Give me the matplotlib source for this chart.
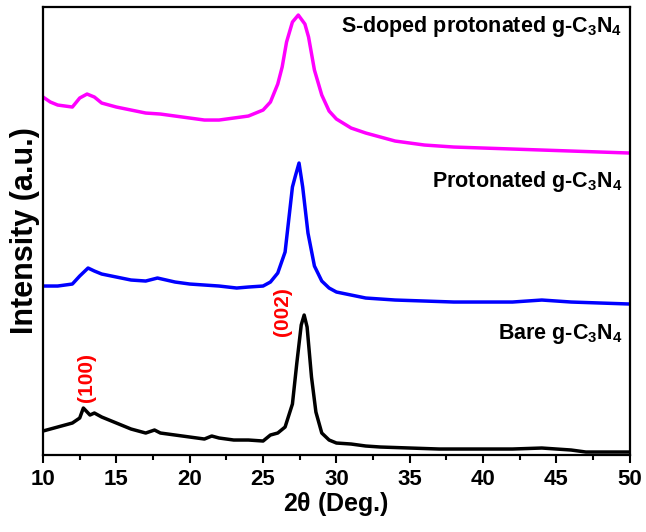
import matplotlib
matplotlib.use('Agg')
import matplotlib.pyplot as plt
from matplotlib.ticker import MultipleLocator

plt.rcParams['font.family'] = ['Liberation Sans', 'DejaVu Sans']
plt.rcParams['mathtext.fontset'] = 'custom'
plt.rcParams['mathtext.rm'] = 'Liberation Sans:bold'
plt.rcParams['mathtext.it'] = 'Liberation Sans:bold'
plt.rcParams['mathtext.bf'] = 'Liberation Sans:bold'

# intensities (arbitrary units, stacked)
s_x = [10, 10.5, 11, 11.5, 12, 12.5, 13, 13.5, 14, 14.5, 15, 16, 17, 18, 19, 20, 21, 22, 23, 24, 25,
       25.5, 26, 26.3, 26.6, 27, 27.4, 27.85, 28.1, 28.5, 29, 29.5, 30, 31, 32, 33, 34, 35, 36, 38, 40,
       42, 44, 46, 48, 50]
s_y = [435, 430, 427, 426, 425, 434, 438, 435, 429, 427, 425, 422, 419, 418, 416, 414, 412, 412, 414, 416, 422,
       430, 448, 465, 490, 510, 517, 508, 495, 462, 437, 421, 413, 404, 399, 395, 391, 389, 387, 385, 384,
       383, 382, 381, 380, 379]

p_x = [10, 11, 12, 12.5, 13.07, 13.5, 14, 15, 16, 17, 17.8, 19, 20, 21, 22, 23.2, 24, 25, 25.5, 26, 26.5,
       27, 27.2, 27.45, 27.7, 28.06, 28.5, 29, 29.5, 30, 31, 32, 34, 36, 38, 40, 42, 44, 46, 48, 50]
p_y = [246, 246, 248, 256, 264, 261, 258, 255, 252, 251, 254, 250, 248, 247, 246, 244, 245, 246, 250, 259, 280,
       345, 356, 369, 345, 299, 266, 251, 244, 240, 237, 234, 232, 231, 230, 230, 230, 232, 230, 229, 228]

b_x = [10, 11, 12, 12.5, 12.75, 13.2, 13.5, 14, 15, 16, 17, 17.6, 18, 19, 20, 21, 21.5, 22, 23, 24, 25,
       25.5, 26, 26.5, 27, 27.3, 27.6, 27.8, 28, 28.3, 28.6, 29, 29.5, 30, 31, 32, 33, 35, 37, 40, 42,
       44, 46, 47, 48, 50]
b_y = [101, 105, 109, 114, 124, 117, 119, 115, 109, 103, 99, 102, 99, 97, 95, 93, 96, 94, 92, 92, 91,
       97, 99, 105, 128, 169, 207, 217, 205, 155, 120, 99, 92, 89, 88, 86, 85, 84, 83, 83, 83,
       84, 82, 80, 80, 80]

fig = plt.figure(figsize=(6.46, 5.32), dpi=100)
ax = fig.add_axes([0.0666, 0.1447, 0.9084, 0.843])

ax.plot(s_x, s_y, color='#ff00ff', lw=2.5)
ax.plot(p_x, p_y, color='#0000ff', lw=2.5)
ax.plot(b_x, b_y, color='black', lw=2.5)

ax.set_xlim(10, 50)
ax.set_ylim(77, 525.5)
ax.set_yticks([])
ax.xaxis.set_major_locator(MultipleLocator(5))
ax.xaxis.set_minor_locator(MultipleLocator(2.5))
ax.tick_params(axis='x', which='major', direction='out', length=6, width=1.5,
               labelsize=16, pad=4)
ax.tick_params(axis='x', which='minor', direction='out', length=3.5, width=1.5)
for lab in ax.get_xticklabels():
    lab.set_fontweight('bold')
for sp in ax.spines.values():
    sp.set_linewidth(1.6)

ax.set_xlabel(r'2$\theta$ (Deg.)', fontsize=18, fontweight='bold', labelpad=0)
ax.set_ylabel('Intensity (a.u.)', fontsize=22, fontweight='bold', labelpad=2)

ax.text(49.5, 500, r'S-doped protonated g-C$_3$N$_4$', ha='right', va='baseline',
        fontsize=15.5, fontweight='bold')
ax.text(49.5, 345, r'Protonated g-C$_3$N$_4$', ha='right', va='baseline',
        fontsize=15.5, fontweight='bold')
ax.text(49.5, 193, r'Bare g-C$_3$N$_4$', ha='right', va='baseline',
        fontsize=15.5, fontweight='bold')

ax.text(12.95, 155, '(100)', color='red', rotation=90, ha='center', va='center',
        fontsize=15, fontweight='bold')
ax.text(26.35, 220, '(002)', color='red', rotation=90, ha='center', va='center',
        fontsize=15, fontweight='bold')

fig.savefig('out.png', dpi=100)
